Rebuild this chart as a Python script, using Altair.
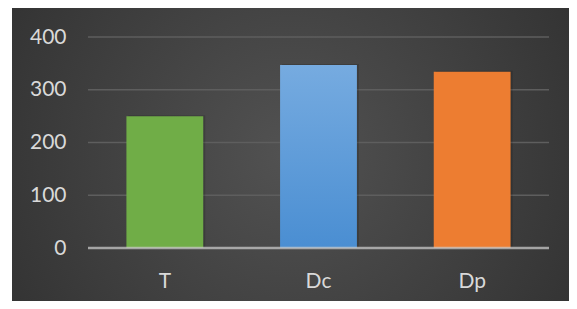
import altair as alt
import pandas as pd

categories = ["T", "Dc", "Dp"]
values = [250, 347, 334]
colors = ["#70ad47", "#5b9bd5", "#ed7d31"]
grid_values = [100, 200, 300, 400]
tick_values = [0, 100, 200, 300, 400]

df = pd.DataFrame({"cat": categories, "val": values})
grid_df = pd.DataFrame({"g": grid_values})
zero_df = pd.DataFrame({"g": [0]})
bg_df = pd.DataFrame({"a": [0]})

y_scale = alt.Scale(domain=[0, 400], nice=False)
x_scale = alt.Scale(domain=categories, paddingInner=0.5, paddingOuter=0.25)

x_axis = alt.Axis(domain=False, ticks=False, tickSize=0, labelAngle=0, grid=False,
                  labelPadding=39, labelBaseline="alphabetic", zindex=2,
                  labelFont="Lato", labelFontSize=21, labelColor="#d9d9d9")
y_axis = alt.Axis(domain=False, ticks=False, tickSize=0, grid=False, zindex=2,
                  values=tick_values, labelPadding=22,
                  labelFont="Lato", labelFontSize=21, labelColor="#d9d9d9")

bg = alt.Chart(bg_df).mark_rect(
    color=alt.Gradient(
        gradient="radial",
        stops=[alt.GradientStop(color="#525252", offset=0),
               alt.GradientStop(color="#2a2a2a", offset=1)],
        x1=0.5, y1=0.5, r1=0, x2=0.5, y2=0.5, r2=0.75,
    )
).encode(
    x=alt.value(-76), x2=alt.value(481), y=alt.value(-29), y2=alt.value(264)
)

grid = alt.Chart(grid_df).mark_rule(color="#5e5e5e", strokeWidth=1.5).encode(
    y=alt.Y("g:Q", scale=y_scale, axis=y_axis, title=None)
)

shadow = alt.Chart(df).mark_bar(color="#000000", opacity=0.15, xOffset=2, yOffset=-1).encode(
    x=alt.X("cat:N", scale=x_scale, sort=categories, axis=x_axis, title=None),
    y=alt.Y("val:Q", scale=y_scale, axis=y_axis, title=None),
)

bars = alt.Chart(df).transform_filter(alt.datum.cat != "Dc").mark_bar().encode(
    x=alt.X("cat:N", scale=x_scale, sort=categories, axis=x_axis, title=None),
    y=alt.Y("val:Q", scale=y_scale, axis=y_axis, title=None),
    color=alt.Color("cat:N", scale=alt.Scale(domain=categories, range=colors), legend=None),
)

bar_dc = alt.Chart(df).transform_filter(alt.datum.cat == "Dc").mark_bar(
    color=alt.Gradient(
        gradient="linear",
        stops=[alt.GradientStop(color="#76abe0", offset=0),
               alt.GradientStop(color="#4a8ed2", offset=1)],
        x1=0, y1=0, x2=0, y2=1,
    )
).encode(
    x=alt.X("cat:N", scale=x_scale, sort=categories, axis=x_axis, title=None),
    y=alt.Y("val:Q", scale=y_scale, axis=y_axis, title=None),
)

zero = alt.Chart(zero_df).mark_rule(color="#c8c8c8", opacity=0.75, strokeWidth=2.5).encode(
    y=alt.Y("g:Q", scale=y_scale, axis=y_axis, title=None)
)

chart = alt.layer(bg, grid, shadow, bars, bar_dc, zero).properties(
    width=461, height=211,
    autosize=alt.AutoSizeParams(type="none"),
    padding={"left": 80, "top": 29, "right": 20, "bottom": 53},
    background="#ffffff",
).configure_view(stroke=None)

chart.save("out.html", embed_options={"renderer": "svg", "actions": False})
